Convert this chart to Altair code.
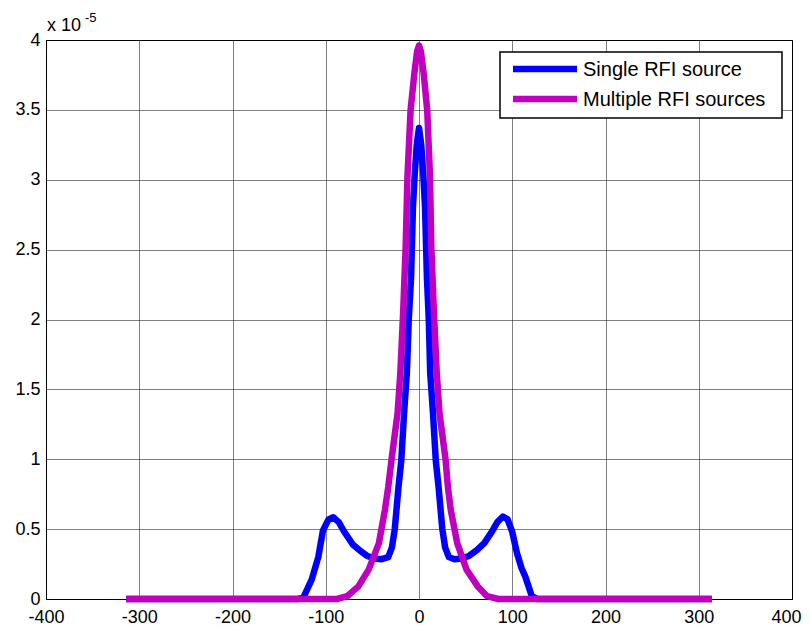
import altair as alt
import pandas as pd

series_names = ["Single RFI source", "Multiple RFI sources"]
series_colors = ["#0000FF", "#BF00BF"]

# Single RFI source (values in units of 1e-5)
single_x = [-314, -130, -124, -115, -108, -103, -97, -92, -86, -81, -71, -64, -56, -48, -40, -33, -29, -26, -22, -19, -16, -13, -11, -8.5, -6.5, -4.5, -2.4, 0,
            2.4, 4.5, 6.5, 8.5, 10.5, 12, 15, 18, 21, 25, 28, 32, 38, 46, 54, 62, 70, 78, 84, 90, 95, 100, 105, 110, 114, 121, 127, 314]
single_y = [0, 0, 0.01, 0.14, 0.30, 0.49, 0.57, 0.585, 0.55, 0.49, 0.39, 0.35, 0.31, 0.29, 0.285, 0.30, 0.37, 0.50, 0.80, 0.99, 1.33, 1.62, 2.0, 2.3, 2.8, 3.05, 3.25, 3.37,
            3.25, 3.05, 2.8, 2.3, 2.0, 1.62, 1.33, 0.99, 0.80, 0.50, 0.37, 0.30, 0.285, 0.29, 0.31, 0.35, 0.40, 0.48, 0.55, 0.59, 0.57, 0.48, 0.33, 0.22, 0.16, 0.02, 0, 0]

# Multiple RFI sources (values in units of 1e-5)
multi_x = [-314, -88, -77, -65, -54, -43, -36.5, -33, -29.6, -23, -20, -17, -14.3, -12.4, -9, -5, -2, 0,
           2, 5, 8.8, 11.8, 13.2, 16, 19, 22, 28.6, 31, 34, 41, 51, 63, 73, 85, 314]
multi_y = [0, 0, 0.02, 0.09, 0.21, 0.40, 0.64, 0.80, 0.99, 1.33, 1.62, 2.05, 2.52, 3.02, 3.5, 3.76, 3.92, 3.96,
           3.92, 3.76, 3.5, 3.02, 2.52, 2.05, 1.62, 1.33, 0.99, 0.80, 0.64, 0.40, 0.21, 0.09, 0.02, 0, 0]

x_ticks = [-400, -300, -200, -100, 0, 100, 200, 300, 400]
y_ticks = [0, 0.5, 1, 1.5, 2, 2.5, 3, 3.5, 4]

FONT = "Liberation Sans"

df_single = pd.DataFrame({"x": single_x, "y": single_y, "series": series_names[0]})
df_multi = pd.DataFrame({"x": multi_x, "y": multi_y, "series": series_names[1]})

xscale = alt.Scale(domain=[-400, 400], nice=False, zero=False)
yscale = alt.Scale(domain=[0, 4], nice=False)

xaxis = alt.Axis(values=x_ticks, title=None, labelExpr="'' + datum.value", labelPadding=9,
                 grid=True, ticks=False, tickSize=0, labelFlush=False, labelOverlap=False,
                 labelOffset={"condition": {"test": "datum.value == 400", "value": -6}, "value": 0})
yaxis = alt.Axis(values=y_ticks, title=None, labelExpr="'' + datum.value", labelPadding=6,
                 grid=True, ticks=False, tickSize=0, labelFlush=False, labelOverlap=False)

lines_single = alt.Chart(df_single.reset_index()).mark_line(strokeWidth=6.5, color=series_colors[0], strokeJoin="round").encode(
    x=alt.X("x:Q", scale=xscale, axis=xaxis),
    y=alt.Y("y:Q", scale=yscale, axis=yaxis),
    order="index:Q",
)
lines_multi = alt.Chart(df_multi.reset_index()).mark_line(strokeWidth=6.5, color=series_colors[1], strokeJoin="round").encode(
    x=alt.X("x:Q", scale=xscale, axis=xaxis),
    y=alt.Y("y:Q", scale=yscale, axis=yaxis),
    order="index:Q",
)

one = pd.DataFrame({"a": [0]})

# exponent label
exp_base = alt.Chart(one).mark_text(text="x 10", font=FONT, fontSize=18, align="left", baseline="alphabetic", color="black").encode(
    x=alt.value(1), y=alt.value(-9))
exp_sup = alt.Chart(one).mark_text(text="-5", font=FONT, fontSize=13, align="left", baseline="alphabetic", color="black").encode(
    x=alt.value(39), y=alt.value(-18))

# legend box
leg_box = alt.Chart(one).mark_rect(fill="white", stroke="black", strokeWidth=1.5).encode(
    x=alt.value(454), x2=alt.value(736), y=alt.value(12), y2=alt.value(78))
leg_layers = [leg_box]
for i, (name, col) in enumerate(zip(series_names, series_colors)):
    yy = 29 + 30 * i
    leg_layers.append(alt.Chart(one).mark_rule(color=col, strokeWidth=6.5).encode(
        x=alt.value(467), x2=alt.value(531), y=alt.value(yy)))
    leg_layers.append(alt.Chart(pd.DataFrame({"label": [name]})).mark_text(
        font=FONT, fontSize=20, align="left", baseline="middle", color="black").encode(
        text="label:N", x=alt.value(537), y=alt.value(yy + 1)))

chart = alt.layer(lines_single, lines_multi, exp_base, exp_sup, *leg_layers).properties(
    width=746, height=559,
    padding={"left": 38, "top": 32, "right": 10, "bottom": 28},
    autosize=alt.AutoSizeParams(type="none"),
    background="white",
).configure_axis(
    labelFont=FONT, labelFontSize=18, labelColor="black",
    domainColor="black", domainWidth=1,
    gridColor="black", gridDash=[1, 1], gridOpacity=1, gridWidth=1,
).configure_view(stroke="black", strokeWidth=1)

chart.save("out.html", embed_options={"renderer": "svg", "actions": False})
